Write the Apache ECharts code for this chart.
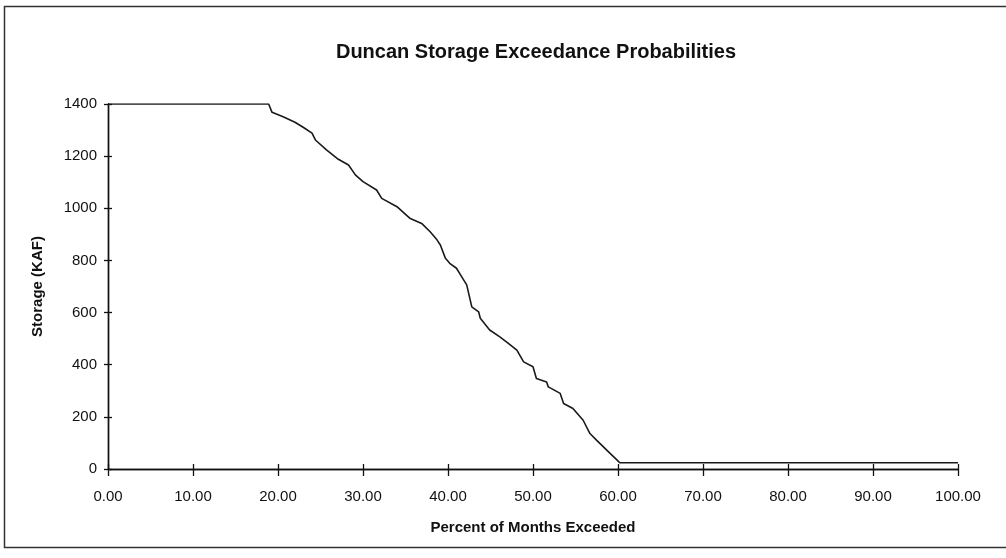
<!DOCTYPE html>
<html>
<head>
<meta charset="utf-8">
<script src="https://cdn.jsdelivr.net/npm/echarts@6/dist/echarts.min.js"></script>
<style>
  html, body { margin: 0; padding: 0; background: #fff; }
  #app { width: 1006px; height: 558px; }
</style>
</head>
<body>
<div id="app"></div>
<script>
// percent of months exceeded vs storage (KAF)
const pctExceeded = [0, 18.9, 19.1, 19.3, 20.6, 22.0, 23.0, 24.0, 24.4, 25.7, 27.1, 28.3, 29.1, 30.0,
  31.6, 32.2, 34.0, 35.1, 35.5, 36.9, 37.9, 38.7, 39.1, 39.7, 40.2, 41.0, 41.6, 42.2, 42.8,
  43.6, 43.8, 44.9, 46.1, 47.1, 48.1, 48.9, 50.0, 50.4, 51.6, 51.8, 53.2, 53.6, 54.7,
  55.9, 56.7, 57.5, 59.1, 59.9, 60.2, 100];
const storage = [1400, 1400, 1399, 1368, 1351, 1330, 1310, 1288, 1262, 1224, 1188, 1166, 1128, 1102,
  1070, 1038, 1006, 974, 962, 942, 910, 879, 859, 808, 789, 770, 738, 706, 622,
  603, 578, 533, 507, 482, 456, 411, 392, 347, 334, 315, 290, 251, 232,
  187, 136, 110, 59, 34, 24, 24];

const xTicks = { min: 0, max: 100, interval: 10 };
const yTicks = { min: 0, max: 1400, interval: 200 };

const font = '"Liberation Sans", Arial, sans-serif';

const chart = echarts.init(document.getElementById('app'));

const axisLine = { lineStyle: { color: '#111', width: 1.4 } };

chart.setOption({
  backgroundColor: '#fff',
  animation: false,
  title: {
    text: 'Duncan Storage Exceedance Probabilities',
    left: 531,
    textAlign: 'center',
    top: 37,
    textStyle: { fontFamily: font, fontSize: 20, fontWeight: 'bold', color: '#111' }
  },
  graphic: [{
    type: 'rect',
    shape: { x: 4.5, y: 6.5, width: 1010, height: 541 },
    style: { fill: 'none', stroke: '#333', lineWidth: 1.5 },
    silent: true
  }],
  grid: { left: 108, right: 48, top: 104, bottom: 89 },
  xAxis: [{
    type: 'value',
    min: xTicks.min, max: xTicks.max, interval: xTicks.interval,
    name: 'Percent of Months Exceeded',
    nameLocation: 'middle',
    nameGap: 51,
    nameTextStyle: { fontFamily: font, fontSize: 15, fontWeight: 'bold', color: '#111' },
    axisLine: axisLine,
    axisTick: { show: true, length: 7, lineStyle: { color: '#111', width: 1.3 } },
    axisLabel: { fontFamily: font, fontSize: 15, color: '#111', margin: 20,
      formatter: v => v.toFixed(2) },
    splitLine: { show: false }
  }, {
    type: 'value',
    position: 'bottom',
    min: xTicks.min, max: xTicks.max, interval: xTicks.interval,
    axisLine: axisLine,
    axisTick: { show: true, inside: true, length: 5, lineStyle: { color: '#111', width: 1.3 } },
    axisLabel: { show: false },
    splitLine: { show: false }
  }],
  yAxis: [{
    type: 'value',
    min: yTicks.min, max: yTicks.max, interval: yTicks.interval,
    name: 'Storage (KAF)',
    nameLocation: 'middle',
    nameGap: 63,
    nameTextStyle: { fontFamily: font, fontSize: 15, fontWeight: 'bold', color: '#111' },
    axisLine: axisLine,
    axisTick: { show: true, length: 4, lineStyle: { color: '#111', width: 1.3 } },
    axisLabel: { fontFamily: font, fontSize: 15, color: '#111', margin: 11,
      formatter: v => String(v) },
    splitLine: { show: false }
  }, {
    type: 'value',
    position: 'left',
    min: yTicks.min, max: yTicks.max, interval: yTicks.interval,
    axisLine: axisLine,
    axisTick: { show: true, inside: true, length: 4, lineStyle: { color: '#111', width: 1.3 } },
    axisLabel: { show: false },
    splitLine: { show: false }
  }],
  series: [{
    type: 'line',
    xAxisIndex: 0,
    yAxisIndex: 0,
    data: pctExceeded.map((p, i) => [p, storage[i]]),
    showSymbol: false,
    symbol: 'none',
    lineStyle: { color: '#1a1a1a', width: 1.6 }
  }]
});
</script>
</body>
</html>
